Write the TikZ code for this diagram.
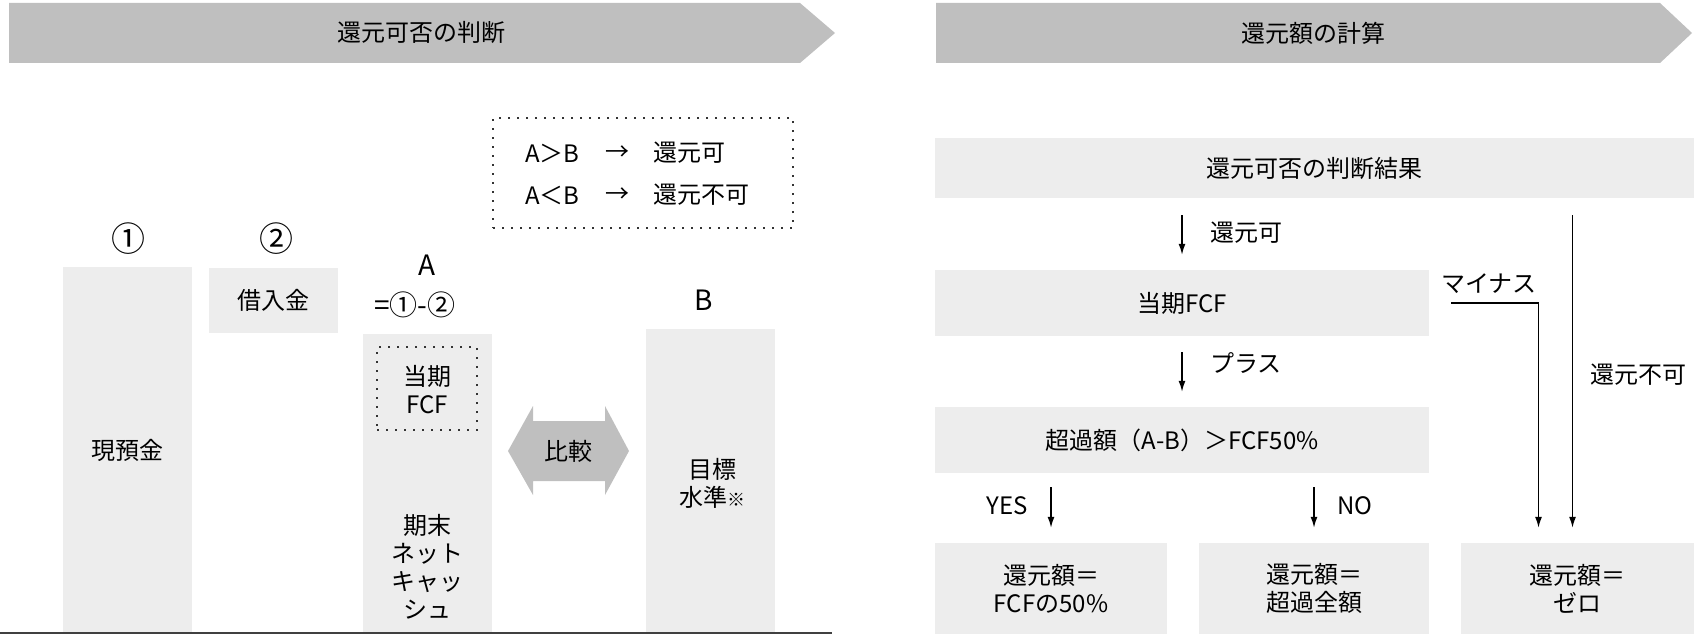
\documentclass[tikz,border=0pt]{standalone}
\usepackage{fontspec}
\setmainfont{Noto Sans CJK JP}
\usetikzlibrary{arrows.meta}
\definecolor{hdrgray}{HTML}{BFBFBF}
\definecolor{boxgray}{HTML}{EDEDED}
\definecolor{dotgray}{HTML}{333333}
\definecolor{linegray}{HTML}{404040}
\begin{document}
\begin{tikzpicture}[x=1pt,y=-1pt,
  txt/.style={inner sep=0pt, font=\fontsize{24}{28}\selectfont, align=center},
  big/.style={inner sep=0pt, font=\fontsize{28}{32}\selectfont, align=center},
  circ/.style={inner sep=0pt, font=\fontsize{34}{36}\selectfont},
  box/.style={fill=boxgray, inner sep=0pt, font=\fontsize{24}{28}\selectfont, align=center},
  dotbox/.style={draw=dotgray, line width=2pt, dash pattern=on 2pt off 7pt, inner sep=0pt},
  arr/.style={line width=1.5pt, -{Latex[length=11pt,width=7pt]}}
]
\useasboundingbox (0,0) rectangle (1694,634);

% ---------- left panel ----------
\fill[hdrgray] (9,3) -- (800,3) -- (835,33) -- (800,63) -- (9,63) -- cycle;
\node[txt] (hdrL) at (421,33) {還元可否の判断};

\node[dotbox, minimum width=300pt, minimum height=110pt] (legend) at (643,173) {};
\node[txt, anchor=west] (l1a) at (525,153) {A＞B};
\node[txt] (l1b) at (617,153) {→};
\node[txt, anchor=west] (l1c) at (653,153) {還元可};
\node[txt, anchor=west] (l2a) at (525,195) {A＜B};
\node[txt] (l2b) at (617,195) {→};
\node[txt, anchor=west] (l2c) at (653,195) {還元不可};

\node[circ] (c1) at (128,239) {①};
\node[circ] (c2) at (276,239) {②};

\node[box, minimum width=129pt, minimum height=367pt] (cash) at (127.5,450.5) {現預金};
\node[box, minimum width=129pt, minimum height=65pt] (loan) at (273.5,300.5) {借入金};

\node[big] (Alab) at (427,265) {A};
\node[big] (Aform) at (415,305) {=①-②};
\node[box, minimum width=129pt, minimum height=300pt] (Abar) at (427.5,484) {};
\node[dotbox, minimum width=100pt, minimum height=83pt] (fcfin) at (427,388.5) {};
\node[txt] (fcfintxt) at (427,390) {当期\\FCF};
\node[txt] (netcash) at (427,567) {期末\\ネット\\キャッ\\シュ};

\fill[hdrgray] (508,451) -- (533,406) -- (533,421) -- (605,421) -- (605,406)
  -- (629,451) -- (605,495) -- (605,481) -- (533,481) -- (533,495) -- cycle;
\node[txt] (cmp) at (568,451) {比較};

\node[big] (Blab) at (704,300) {B};
\node[box, minimum width=129pt, minimum height=305pt] (Bbar) at (710.5,481.5) {};
\node[txt] (target) at (712,483) {目標\\水準{\fontsize{18}{18}\selectfont ※}};

\draw[linegray, line width=2pt] (0,633) -- (832,633);

% ---------- right panel ----------
\fill[hdrgray] (936,3) -- (1660,3) -- (1692,33) -- (1660,63) -- (936,63) -- cycle;
\node[txt] (hdrR) at (1313,33) {還元額の計算};

\node[box, minimum width=759pt, minimum height=60pt] (result) at (1314.5,168) {還元可否の判断結果};
\node[box, minimum width=494pt, minimum height=66pt] (fcf) at (1182,303) {当期FCF};
\node[box, minimum width=494pt, minimum height=66pt] (excess) at (1182,440) {超過額（A-B）＞FCF50\%};
\node[box, minimum width=232pt, minimum height=91pt] (r1) at (1051,588.5) {還元額＝\\FCFの50\%};
\node[box, minimum width=230pt, minimum height=91pt] (r2) at (1314,588.5) {還元額＝\\超過全額};
\node[box, minimum width=233pt, minimum height=91pt] (r3) at (1577.5,588.5) {還元額＝\\ゼロ};

\draw[arr, shorten <=17pt, shorten >=15pt] (result.south -| fcf.north) -- (fcf.north);
\node[txt, anchor=west] (lkanka) at (1210,233) {還元可};

\draw[arr, shorten <=16pt, shorten >=15pt] (fcf.south) -- (excess.north);
\node[txt, anchor=west] (lplus) at (1210,363) {プラス};

\draw[arr, shorten <=14pt, shorten >=15pt] (excess.south -| r1.north) -- (r1.north);
\node[txt, anchor=east] (lyes) at (1028,506) {YES};

\draw[arr, shorten <=14pt, shorten >=15pt] (excess.south -| r2.north) -- (r2.north);
\node[txt, anchor=west] (lno) at (1337,506) {NO};

\coordinate (mstart) at ([xshift=22pt]fcf.east);
\coordinate (mend) at ([xshift=-39pt,yshift=15pt]r3.north);
\draw[arr] (mstart) -| (mend);
\node[txt] (lminus) at (1489,284) {マイナス};

\coordinate (nstart) at ([xshift=-5pt,yshift=-17pt]r3.north |- result.south);
\coordinate (nend) at ([xshift=-5pt,yshift=15pt]r3.north);
\draw[arr] (nstart) -- (nend);
\node[txt] (lfuka) at (1638,375) {還元不可};
\end{tikzpicture}
\end{document}
